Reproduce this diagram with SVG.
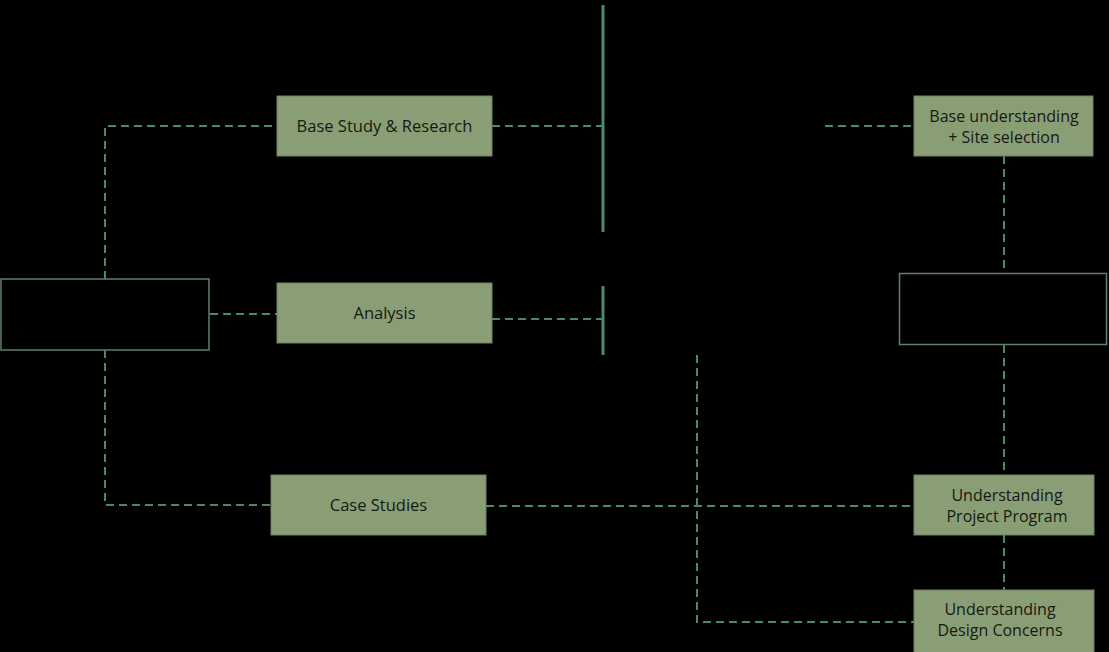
<svg xmlns="http://www.w3.org/2000/svg" width="1109" height="652" viewBox="0 0 1109 652">
<style>
.box{fill:#8a9e76;stroke:#6f8460;stroke-width:1}
.empty{fill:none;stroke:#5f7f66;stroke-width:1.5}
.dash{fill:none;stroke:#4a8a6c;stroke-width:2;stroke-dasharray:8,5}
.solid{fill:none;stroke:#4a8a74;stroke-width:3}
text{font-family:"Open Sans","Noto Sans",sans-serif;font-size:16.5px;fill:#141a12;text-anchor:middle}
.two{font-size:16px}
</style>
<rect width="1109" height="652" fill="#000"/>
<g id="connectors">
<polyline class="dash" points="105,279 105,126 277,126"/>
<polyline class="dash" points="105,350 105,505 271,505"/>
<line class="dash" x1="210" y1="314" x2="277" y2="314"/>
<line class="dash" x1="492" y1="126" x2="603" y2="126"/>
<line class="dash" x1="492" y1="319" x2="603" y2="319"/>
<line class="solid" x1="603" y1="5" x2="603" y2="232"/>
<line class="solid" x1="603" y1="286" x2="603" y2="355"/>
<line class="dash" x1="825" y1="126" x2="914" y2="126"/>
<line class="dash" x1="1004" y1="156" x2="1004" y2="273"/>
<line class="dash" x1="1004" y1="345" x2="1004" y2="475"/>
<line class="dash" x1="1004" y1="535" x2="1004" y2="590"/>
<line class="dash" x1="486" y1="506" x2="914" y2="506"/>
<polyline class="dash" points="697,355 697,622 914,622"/>
</g>
<g id="left-box"><rect class="empty" x="1" y="279" width="208" height="71"/></g>
<g id="base-study"><rect class="box" x="277" y="96" width="215" height="60"/><text x="384.5" y="132">Base Study &amp; Research</text></g>
<g id="analysis"><rect class="box" x="277" y="283" width="215" height="60"/><text x="384.5" y="319">Analysis</text></g>
<g id="case-studies"><rect class="box" x="271" y="475" width="215" height="60"/><text x="378.5" y="511">Case Studies</text></g>
<g id="base-understanding"><rect class="box" x="914" y="96" width="179" height="60"/><text class="two" x="1004" y="122">Base understanding</text><text class="two" x="1004" y="143">+ Site selection</text></g>
<g id="right-box"><rect class="empty" x="899.5" y="273.5" width="207" height="71"/></g>
<g id="project-program"><rect class="box" x="914" y="475" width="180" height="60"/><text class="two" x="1007" y="501">Understanding</text><text class="two" x="1007" y="522">Project Program</text></g>
<g id="design-concerns"><rect class="box" x="914" y="590" width="180" height="64"/><text class="two" x="1000" y="615">Understanding</text><text class="two" x="1000" y="636">Design Concerns</text></g>
</svg>
